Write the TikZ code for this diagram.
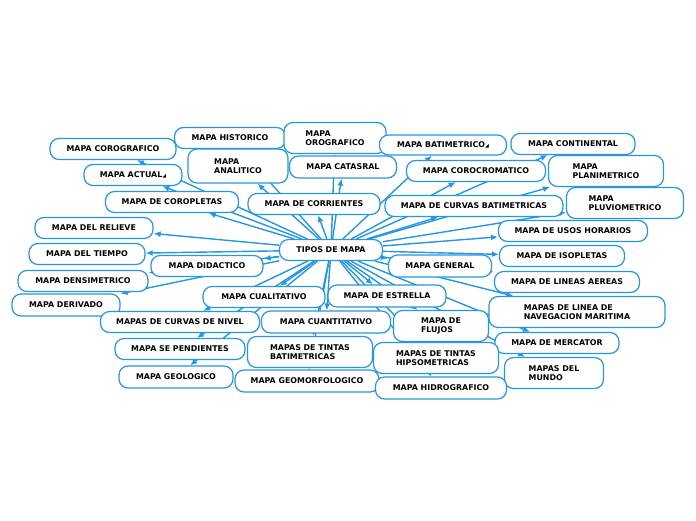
\documentclass[tikz,border=0pt]{standalone}
\usepackage{fontspec}
\setmainfont{DejaVu Sans}
\usetikzlibrary{arrows.meta,backgrounds}
\definecolor{mapblue}{RGB}{36,150,226}
\newcommand{\tri}{{\fontsize{5}{5}\selectfont ◢}}

\begin{document}
\begin{tikzpicture}[x=1pt, y=-1pt,
    every node/.style={rectangle, draw=mapblue, line width=1.2pt, rounded corners=9pt,
        fill=white, minimum height=21pt, inner sep=2pt, font=\fontsize{7.9}{9.4}\selectfont\bfseries},
    twoline/.style={minimum height=31pt, align=left},
    link/.style={draw=mapblue, line width=1.4pt, -{Latex[length=7pt,width=6pt]}}]
    \useasboundingbox (0,-1) rectangle (696,519);
    \node (tipos) at (331,249) [minimum width=103pt] {TIPOS DE MAPA};
    % upper part
    \node (hist) at (230,137) [minimum width=111pt] {MAPA HISTORICO};
    \node (orog) at (335,137) [twoline, minimum width=102pt] {MAPA\\OROGRAFICO};
    \node (batim) at (443,144) [minimum width=127pt, minimum height=20pt] {MAPA BATIMETRICO\tri};
    \node (conti) at (573,143) [minimum width=124pt] {MAPA CONTINENTAL};
    \node (corog) at (113,148) [minimum width=126pt] {MAPA COROGRAFICO};
    \node (anal) at (238,165) [twoline, minimum width=100pt, minimum height=34pt] {MAPA\\ANALITICO};
    \node (catas) at (343,166) [minimum width=107pt, minimum height=22pt] {MAPA CATASRAL};
    \node (coroc) at (476,170) [minimum width=139pt] {MAPA COROCROMATICO};
    \node (plani) at (606,170) [twoline, minimum width=115pt] {MAPA\\PLANIMETRICO};
    \node (actual) at (133,174) [minimum width=98pt] {MAPA ACTUAL\tri};
    \node (coropl) at (172,201) [minimum width=133pt] {MAPA DE COROPLETAS};
    \node (corr) at (314,203) [minimum width=132pt] {MAPA DE CORRIENTES};
    \node (curvbat) at (474,205) [minimum width=178pt] {MAPA DE CURVAS BATIMETRICAS};
    \node (pluvio) at (625,202) [twoline, minimum width=117pt] {MAPA\\PLUVIOMETRICO};
    % middle
    \node (relieve) at (94,227) [minimum width=118pt] {MAPA DEL RELIEVE};
    \node (usos) at (573,230) [minimum width=149pt] {MAPA DE USOS HORARIOS};
    \node (tiempo) at (87,253) [minimum width=116pt] {MAPA DEL TIEMPO};
    \node (isopl) at (562,255) [minimum width=125pt] {MAPA DE ISOPLETAS};
    \node (didac) at (207,265) [minimum width=112pt] {MAPA DIDACTICO};
    \node (general) at (440,265) [minimum width=103pt, minimum height=22pt] {MAPA GENERAL};
    \node (densim) at (83,280) [minimum width=130pt] {MAPA DENSIMETRICO};
    \node (lineas) at (567,281) [minimum width=145pt] {MAPA DE LINEAS AEREAS};
    \node (cualit) at (264,296) [minimum width=122pt] {MAPA CUALITATIVO};
    \node (estrella) at (387,295) [minimum width=118pt, minimum height=22pt] {MAPA DE ESTRELLA};
    \node (derivado) at (66,304) [minimum width=108pt, minimum height=22pt] {MAPA DERIVADO};
    % lower part
    \node (navega) at (577,311) [twoline, minimum width=176pt] {MAPAS DE LINEA DE\\NAVEGACION MARITIMA};
    \node (curvniv) at (180,321) [minimum width=159pt] {MAPAS DE CURVAS DE NIVEL};
    \node (cuantit) at (326,321) [minimum width=129pt, minimum height=22pt] {MAPA CUANTITATIVO};
    \node (flujos) at (441,325) [twoline, minimum width=95pt] {MAPA DE\\FLUJOS};
    \node (mercator) at (557,342) [minimum width=124pt] {MAPA DE MERCATOR};
    \node (pendient) at (180,348) [minimum width=130pt] {MAPA SE PENDIENTES};
    \node (tintbat) at (310,351) [twoline, minimum width=125pt] {MAPAS DE TINTAS\\BATIMETRICAS};
    \node (tinthip) at (436,357) [twoline, minimum width=125pt] {MAPAS DE TINTAS\\HIPSOMETRICAS};
    \node (mundo) at (554,372) [twoline, minimum width=99pt] {MAPAS DEL\\MUNDO};
    \node (geolog) at (176,376) [minimum width=114pt, minimum height=22pt] {MAPA GEOLOGICO};
    \node (geomorf) at (307,380) [minimum width=144pt, minimum height=22pt] {MAPA GEOMORFOLOGICO};
    \node (hidrog) at (441,387) [minimum width=131pt, minimum height=22pt] {MAPA HIDROGRAFICO};
    % connectors
    \begin{scope}[on background layer]
        \foreach \n in {hist,orog,batim,conti,corog,anal,catas,coroc,plani,actual,coropl,corr,
            curvbat,pluvio,relieve,usos,tiempo,isopl,didac,general,densim,lineas,cualit,estrella,
            derivado,navega,curvniv,cuantit,flujos,mercator,pendient,tintbat,tinthip,mundo,
            geolog,geomorf,hidrog}
            \draw[link] (tipos) -- (\n);
    \end{scope}
\end{tikzpicture}
\end{document}
